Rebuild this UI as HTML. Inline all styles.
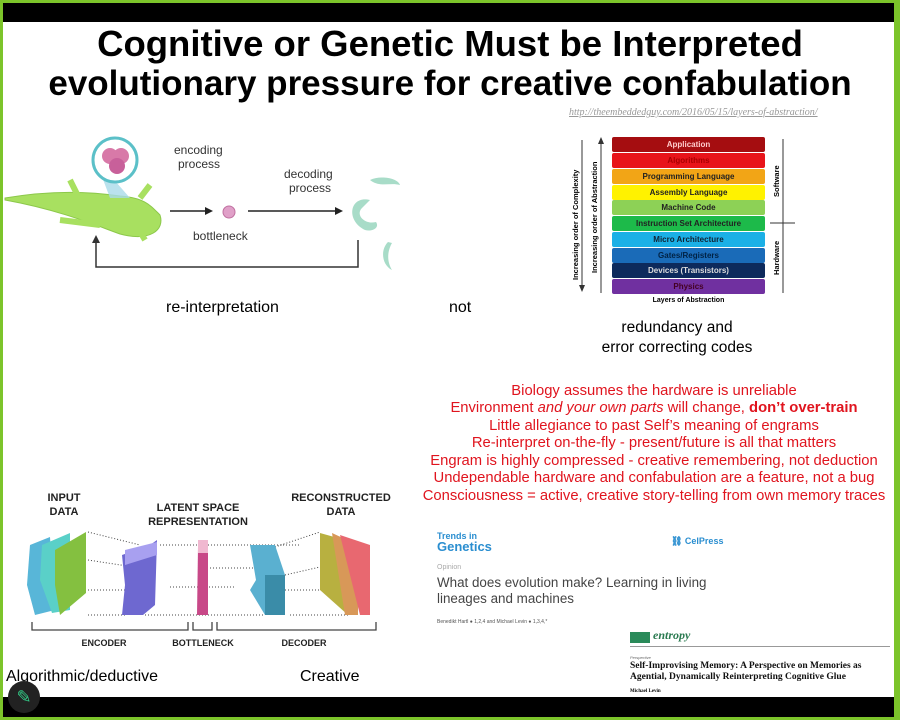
<!DOCTYPE html>
<html><head><meta charset="utf-8"><style>
body{margin:0;width:900px;height:720px;position:relative;overflow:hidden;background:#fff;font-family:"Liberation Sans",sans-serif}
.a{position:absolute}
.t{position:absolute;left:0;width:900px;text-align:center;font-weight:bold;font-size:35px;color:#000;line-height:40px}
.lay{position:absolute;left:612px;width:153px;height:15px;border-radius:2px;font-size:8px;font-weight:bold;text-align:center;line-height:15px}
.red{position:absolute;left:400px;width:508px;text-align:center;color:#e0141e;font-size:14.8px;line-height:17.5px;white-space:nowrap}
</style></head><body>
<div class="a" style="left:0;top:0;width:900px;height:720px;background:#7cc42a"></div>
<div class="a" style="left:3px;top:3px;width:891px;height:714px;background:#fff"></div>
<div class="a" style="left:3px;top:3px;width:891px;height:19px;background:#000"></div>
<div class="a" style="left:3px;top:697px;width:891px;height:20px;background:#000"></div>
<div class="t" style="top:24px;font-size:36.5px">Cognitive or Genetic Must be Interpreted</div>
<div class="t" style="top:64px">evolutionary pressure for creative confabulation</div>

<!-- salamander diagram -->
<svg class="a" style="left:0;top:130px" width="420" height="150">
<path d="M5 68 C40 62 80 60 120 66 C145 68 150 75 160 85 C165 100 150 112 120 104 C95 95 60 80 5 70Z" fill="#a8e060" stroke="#8cc84a"/>
<path d="M70 50 L80 70 M130 85 L145 110 M100 95 L60 90 M140 68 L150 55" stroke="#a8e060" stroke-width="6"/>
<path d="M95 28 L110 68 L130 68 Z" fill="#a9dbe8" opacity=".8"/>
<circle cx="115" cy="30" r="22" fill="#fff" stroke="#5bc0c8" stroke-width="3"/>
<circle cx="110" cy="26" r="8" fill="#d879a8"/><circle cx="121" cy="26" r="8" fill="#d879a8"/><circle cx="117" cy="36" r="8" fill="#c8609a"/>
<text x="174" y="24" font-size="12" fill="#333">encoding</text><text x="178" y="38" font-size="12" fill="#333">process</text>
<text x="284" y="48" font-size="12" fill="#333">decoding</text><text x="289" y="62" font-size="12" fill="#333">process</text>
<line x1="170" y1="81" x2="205" y2="81" stroke="#222" stroke-width="1.5"/><path d="M205 77 L213 81 L205 85Z" fill="#222"/>
<circle cx="229" cy="82" r="6" fill="#e0a0c8" stroke="#c070a0"/>
<line x1="248" y1="81" x2="335" y2="81" stroke="#222" stroke-width="1.5"/><path d="M335 77 L343 81 L335 85Z" fill="#222"/>
<text x="193" y="110" font-size="12" fill="#333">bottleneck</text>
<path d="M358 110 L358 137 L96 137 L96 112" fill="none" stroke="#333" stroke-width="1.5"/><path d="M92 113 L96 105 L100 113Z" fill="#333"/>
<path d="M370 70 C350 65 345 90 365 100 C372 102 380 98 376 92 C365 95 355 85 362 78 Z" fill="#a8dcc8"/>
<path d="M370 50 C380 45 398 48 400 55 C390 52 380 58 370 50Z" fill="#a8dcc8"/>
<path d="M388 112 C380 120 382 135 392 140 C386 130 388 120 392 113Z" fill="#a8dcc8"/>
</svg>
<div class="a" style="left:166px;top:299px;font-size:16px">re-interpretation</div>
<div class="a" style="left:449px;top:299px;font-size:16px">not</div>

<!-- layers -->
<div class="a" style="left:569px;top:107px;font-family:'Liberation Serif',serif;font-style:italic;font-size:10px;color:#999;text-decoration:underline;white-space:nowrap">http://theembeddedguy.com/2016/05/15/layers-of-abstraction/</div>
<div class="lay" style="top:137px;background:#a50d10;color:#fcc">Application</div>
<div class="lay" style="top:153px;background:#e8141a;color:#a00">Algorithms</div>
<div class="lay" style="top:169px;background:#f2a516;color:#222">Programming Language</div>
<div class="lay" style="top:185px;background:#fff200;color:#222">Assembly Language</div>
<div class="lay" style="top:200px;background:#8dd156;color:#222">Machine Code</div>
<div class="lay" style="top:216px;background:#1dba4a;color:#222">Instruction Set Architecture</div>
<div class="lay" style="top:232px;background:#1bb0e6;color:#123">Micro Architecture</div>
<div class="lay" style="top:248px;background:#1a6bb8;color:#024">Gates/Registers</div>
<div class="lay" style="top:263px;background:#0d2a5c;color:#ddd">Devices (Transistors)</div>
<div class="lay" style="top:279px;background:#7030a0;color:#402">Physics</div>
<div class="a" style="left:612px;top:297px;width:153px;text-align:center;font-size:7px;font-weight:bold">Layers of Abstraction</div>
<svg class="a" style="left:565px;top:135px" width="230" height="165">
<line x1="17" y1="5" x2="17" y2="155" stroke="#333"/><path d="M14 150 L17 157 L20 150Z" fill="#333"/>
<line x1="36" y1="4" x2="36" y2="158" stroke="#333"/><path d="M33 9 L36 2 L39 9Z" fill="#333"/>
<text transform="translate(13,145) rotate(-90)" font-size="7.5" font-weight="bold">Increasing order of Complexity</text>
<text transform="translate(32,138) rotate(-90)" font-size="7.5" font-weight="bold">Increasing order of Abstraction</text>
<line x1="218" y1="4" x2="218" y2="158" stroke="#333"/><line x1="205" y1="88" x2="230" y2="88" stroke="#333"/>
<text transform="translate(214,62) rotate(-90)" font-size="7.5" font-weight="bold">Software</text>
<text transform="translate(214,140) rotate(-90)" font-size="7.5" font-weight="bold">Hardware</text>
</svg>
<div class="a" style="left:567px;top:318px;width:220px;text-align:center;font-size:15.5px;line-height:20px">redundancy and<br>error correcting codes</div>

<div class="red" style="top:383px">Biology assumes the hardware is unreliable</div>
<div class="red" style="top:400px">Environment <i>and your own parts</i> will change, <b>don’t over-train</b></div>
<div class="red" style="top:418px">Little allegiance to past Self’s meaning of engrams</div>
<div class="red" style="top:435px">Re-interpret on-the-fly - present/future is all that matters</div>
<div class="red" style="top:453px">Engram is highly compressed - creative remembering, not deduction</div>
<div class="red" style="top:470px">Undependable hardware and confabulation are a feature, not a bug</div>
<div class="red" style="top:488px">Consciousness = active, creative story-telling from own memory traces</div>

<!-- papers -->
<div class="a" style="left:437px;top:531px;color:#2a8ed0;font-size:9px;font-weight:bold">Trends in</div>
<div class="a" style="left:437px;top:539px;color:#2a8ed0;font-size:13px;font-weight:bold">Genetics</div>
<div class="a" style="left:671px;top:536px;color:#2a8ed0;font-size:9px;font-weight:bold">⛓ CelPress</div>
<div class="a" style="left:437px;top:564px;color:#aaa;font-size:7px">Opinion</div>
<div class="a" style="left:437px;top:575px;color:#444;font-size:13.4px;line-height:16px">What does evolution make? Learning in living<br>lineages and machines</div>
<div class="a" style="left:437px;top:619px;color:#555;font-size:5px">Benedikt Hartl ● 1,2,4 and Michael Levin ● 1,3,4,*</div>
<div class="a" style="left:630px;top:632px;width:20px;height:11px;background:#2a8a5a"></div>
<div class="a" style="left:653px;top:628px;font-family:'Liberation Serif',serif;font-style:italic;font-weight:bold;color:#2a7a50;font-size:12px">entropy</div>
<div class="a" style="left:630px;top:646px;width:260px;height:1px;background:#999"></div>
<div class="a" style="left:630px;top:655px;font-size:4px;color:#666;font-style:italic">Perspective</div>
<div class="a" style="left:630px;top:661px;font-family:'Liberation Serif',serif;font-weight:bold;font-size:9.5px;line-height:11px;color:#111;white-space:nowrap">Self-Improvising Memory: A Perspective on Memories as<br>Agential, Dynamically Reinterpreting Cognitive Glue</div>
<div class="a" style="left:630px;top:689px;font-family:'Liberation Serif',serif;font-weight:bold;font-size:5px">Michael Levin</div>

<!-- autoencoder -->
<svg class="a" style="left:0;top:485px" width="400" height="200">
<g font-size="11" font-weight="bold" text-anchor="middle" fill="#222">
<text x="64" y="16">INPUT</text><text x="64" y="30">DATA</text>
<text x="198" y="26">LATENT SPACE</text><text x="198" y="40">REPRESENTATION</text>
<text x="341" y="16">RECONSTRUCTED</text><text x="341" y="30">DATA</text></g>
<g stroke="#444" stroke-dasharray="1,2" fill="none">
<path d="M88 47 L140 60 M88 75 L140 83 M88 105 L125 105 M88 130 L125 130 M160 60 L300 60 M210 83 L260 83 M170 102 L235 102 M145 130 L265 130 M275 62 L320 47 M285 90 L320 82 M285 105 L320 105 M290 130 L350 130"/></g>
<path d="M30 60 L50 52 L55 125 L35 130 L27 100Z" fill="#58b6d8"/>
<path d="M42 60 L70 48 L70 125 L52 128 L40 95Z" fill="#5ad0c8"/>
<path d="M55 65 L86 47 L86 108 L60 130 L55 100Z" fill="#84c040"/>
<path d="M122 70 L150 60 L157 55 L155 120 L143 130 L122 130 L125 100Z" fill="#6e68d0"/>
<path d="M125 65 L157 57 L157 70 L125 80Z" fill="#a8a0f0"/>
<path d="M198 62 L208 62 L208 130 L197 130Z" fill="#c84888"/>
<path d="M198 55 L208 55 L208 68 L198 68Z" fill="#f0b8d0"/>
<path d="M250 60 L275 60 L285 90 L285 130 L265 130 L250 105 L256 95Z" fill="#5ab0d0"/>
<path d="M265 90 L285 90 L285 130 L265 130Z" fill="#3a8ca8"/>
<path d="M320 48 L345 55 L348 130 L320 105Z" fill="#b8b040"/>
<path d="M332 48 L358 60 L358 130 L345 130Z" fill="#d89858"/>
<path d="M340 50 L370 60 L370 130 L360 130Z" fill="#e86870"/>
<g stroke="#444" stroke-width="1.3" fill="none">
<path d="M32 137 L32 145 L188 145 L188 137 M193 137 L193 145 L212 145 L212 137 M217 137 L217 145 L376 145 L376 137"/></g>
<g font-size="9" font-weight="bold" text-anchor="middle" fill="#222">
<text x="104" y="161">ENCODER</text><text x="203" y="161">BOTTLENECK</text><text x="304" y="161">DECODER</text></g>
</svg>
<div class="a" style="left:6px;top:668px;font-size:16px">Algorithmic/deductive</div>
<div class="a" style="left:300px;top:668px;font-size:16px">Creative</div>
<div class="a" style="left:8px;top:681px;width:32px;height:32px;border-radius:50%;background:#222;color:#3c8;font-size:18px;text-align:center;line-height:32px">✎</div>
</body></html>
